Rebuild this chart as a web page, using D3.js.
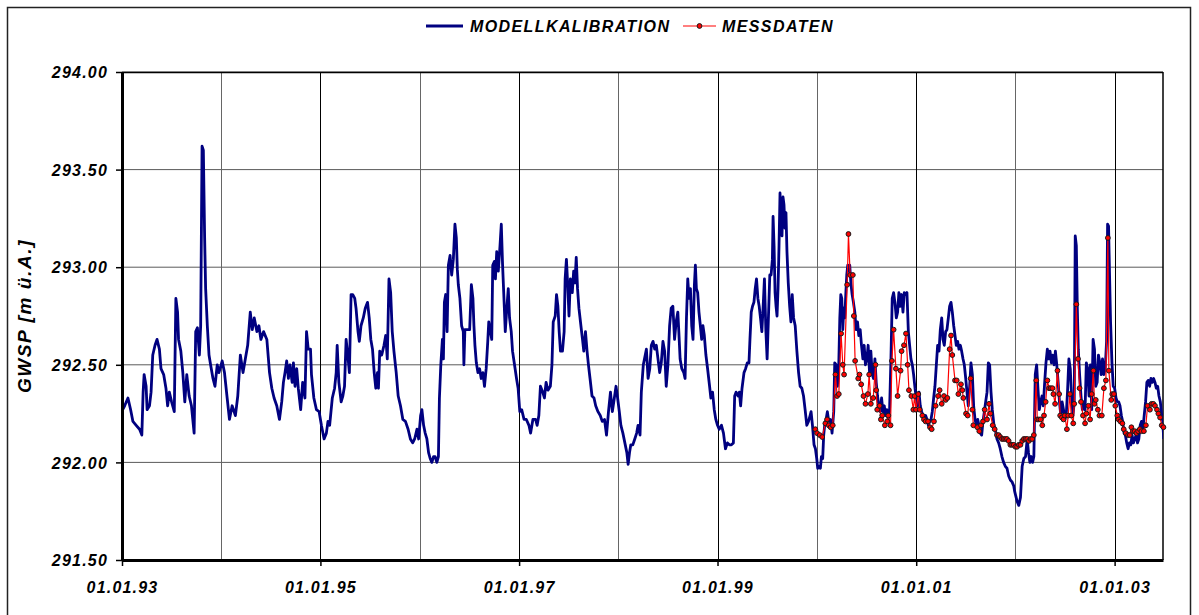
<!DOCTYPE html>
<html lang="de">
<head>
<meta charset="UTF-8">
<title>GWSP Modellkalibration</title>
<script src="https://d3js.org/d3.v7.min.js"></script>
<style>
    body { margin: 0; background: #fff; }
    svg { display: block; font-family: "Liberation Sans", Arial, sans-serif; }
    text { font-weight: bold; font-style: italic; fill: #000; }
</style>
</head>
<body>
<svg id="chart" width="1199" height="615"></svg>
<script>
// [decimal year, water level m ü.A.]
const modelSeries = [
[1993.000,292.44],[1993.007,292.27],[1993.027,292.29],[1993.060,292.33],[1993.087,292.27],[1993.110,292.21],[1993.143,292.19],[1993.177,292.17],[1993.200,292.14],[1993.213,292.36],[1993.223,292.45],[1993.243,292.39],[1993.253,292.27],[1993.277,292.29],[1993.293,292.36],[1993.310,292.55],[1993.333,292.60],[1993.353,292.63],[1993.377,292.58],[1993.393,292.48],[1993.420,292.45],[1993.443,292.38],[1993.460,292.29],[1993.477,292.36],[1993.500,292.31],[1993.527,292.26],[1993.543,292.84],[1993.560,292.77],[1993.570,292.63],[1993.593,292.57],[1993.613,292.46],[1993.633,292.31],[1993.653,292.45],[1993.677,292.34],[1993.700,292.29],[1993.727,292.15],[1993.743,292.67],[1993.760,292.69],[1993.780,292.55],[1993.793,292.70],[1993.807,293.62],[1993.820,293.60],[1993.833,293.15],[1993.843,292.89],[1993.860,292.70],[1993.877,292.55],[1993.893,292.50],[1993.917,292.43],[1993.937,292.39],[1993.960,292.50],[1993.977,292.46],[1994.010,292.52],[1994.033,292.46],[1994.060,292.33],[1994.083,292.22],[1994.110,292.29],[1994.143,292.24],[1994.167,292.34],[1994.193,292.55],[1994.220,292.46],[1994.243,292.53],[1994.267,292.60],[1994.293,292.77],[1994.313,292.68],[1994.333,292.74],[1994.360,292.67],[1994.380,292.70],[1994.400,292.63],[1994.427,292.67],[1994.460,292.63],[1994.487,292.46],[1994.510,292.38],[1994.533,292.33],[1994.560,292.29],[1994.587,292.22],[1994.610,292.31],[1994.627,292.41],[1994.643,292.46],[1994.660,292.52],[1994.677,292.43],[1994.693,292.50],[1994.715,292.41],
[1994.728,292.51],[1994.744,292.39],[1994.761,292.48],[1994.777,292.38],[1994.801,292.27],[1994.821,292.41],[1994.844,292.33],[1994.860,292.67],[1994.877,292.58],[1994.900,292.58],[1994.910,292.45],[1994.934,292.33],[1994.960,292.27],[1994.987,292.26],[1995.010,292.19],[1995.037,292.12],[1995.060,292.15],[1995.076,292.21],[1995.093,292.19],[1995.120,292.33],[1995.143,292.38],[1995.159,292.46],[1995.169,292.60],[1995.186,292.41],[1995.209,292.31],[1995.226,292.34],[1995.243,292.39],[1995.259,292.63],[1995.276,292.55],[1995.292,292.46],[1995.309,292.86],[1995.326,292.86],[1995.346,292.84],[1995.359,292.79],[1995.379,292.67],[1995.392,292.62],[1995.409,292.70],[1995.432,292.74],[1995.452,292.79],[1995.475,292.82],[1995.492,292.74],[1995.508,292.63],[1995.525,292.58],[1995.542,292.46],[1995.558,292.38],[1995.575,292.46],[1995.585,292.38],[1995.598,292.57],[1995.618,292.55],[1995.641,292.60],[1995.658,292.65],[1995.674,292.53],[1995.691,292.94],[1995.708,292.87],[1995.724,292.67],[1995.741,292.57],[1995.764,292.46],[1995.784,292.34],[1995.807,292.29],[1995.831,292.22],[1995.857,292.21],[1995.884,292.17],[1995.907,292.12],[1995.930,292.10],[1995.950,292.12],[1995.973,292.17],[1995.990,292.12],[1996.010,292.24],[1996.023,292.27],[1996.040,292.19],[1996.056,292.15],[1996.073,292.12],[1996.090,292.05],[1996.106,292.02],[1996.123,292.00],[1996.140,292.03],[1996.156,292.03],[1996.173,292.00],[1996.189,292.03],[1996.199,292.33],[1996.213,292.50],[1996.229,292.63],[1996.239,292.53],[1996.249,292.82],[1996.262,292.86],[1996.276,292.67],[1996.289,293.01],[1996.306,293.06],[1996.322,292.96],[1996.339,293.04],[1996.355,293.22],[1996.369,293.15],[1996.379,292.99],[1996.389,292.91],[1996.405,292.84],[1996.422,292.70],[1996.439,292.67],[1996.445,292.50],[1996.455,292.68],[1996.482,292.68],
[1996.503,292.68],[1996.520,292.91],[1996.536,292.84],[1996.546,292.70],[1996.556,292.60],[1996.570,292.51],[1996.586,292.46],[1996.603,292.48],[1996.619,292.43],[1996.636,292.46],[1996.652,292.39],[1996.669,292.48],[1996.685,292.62],[1996.695,292.72],[1996.709,292.68],[1996.725,292.63],[1996.735,293.01],[1996.752,293.03],[1996.762,292.94],[1996.775,293.08],[1996.791,292.98],[1996.808,293.11],[1996.821,293.22],[1996.834,293.01],[1996.851,292.80],[1996.861,292.67],[1996.874,292.77],[1996.891,292.89],[1996.904,292.74],[1996.921,292.67],[1996.934,292.57],[1996.954,292.50],[1996.974,292.43],[1996.990,292.38],[1997.007,292.26],[1997.026,292.27],[1997.050,292.22],[1997.073,292.22],[1997.099,292.19],[1997.116,292.15],[1997.139,292.22],[1997.166,292.22],[1997.182,292.19],[1997.199,292.24],[1997.215,292.39],[1997.238,292.36],[1997.255,292.33],[1997.272,292.41],[1997.291,292.37],[1997.315,292.39],[1997.331,292.50],[1997.344,292.72],[1997.364,292.75],[1997.377,292.86],[1997.391,292.80],[1997.404,292.67],[1997.417,292.57],[1997.437,292.57],[1997.454,292.67],[1997.464,292.94],[1997.477,293.04],[1997.490,292.91],[1997.503,292.75],[1997.517,292.94],[1997.536,292.87],[1997.550,292.98],[1997.563,292.92],[1997.576,293.05],[1997.589,292.89],[1997.603,292.79],[1997.623,292.70],[1997.639,292.63],[1997.652,292.57],[1997.669,292.67],[1997.685,292.57],[1997.699,292.50],[1997.715,292.43],[1997.735,292.34],[1997.755,292.33],[1997.772,292.29],[1997.795,292.26],[1997.818,292.24],[1997.838,292.21],[1997.861,292.22],[1997.881,292.14],[1997.901,292.26],[1997.921,292.36],[1997.940,292.26],[1997.960,292.33],[1997.977,292.39],[1997.993,292.33],[1998.010,292.26],[1998.026,292.19],[1998.046,292.15],[1998.066,292.10],[1998.086,292.05],[1998.099,291.99],[1998.113,292.05],[1998.126,292.09],[1998.146,292.09],[1998.166,292.12],[1998.185,292.15],[1998.199,292.19],[1998.219,292.14],[1998.232,292.36],[1998.252,292.50],
[1998.283,292.58],[1998.300,292.43],[1998.317,292.48],[1998.333,292.60],[1998.350,292.62],[1998.367,292.58],[1998.383,292.60],[1998.400,292.53],[1998.417,292.46],[1998.433,292.51],[1998.450,292.62],[1998.467,292.57],[1998.483,292.39],[1998.500,292.50],[1998.517,292.70],[1998.533,292.79],[1998.550,292.80],[1998.567,292.63],[1998.583,292.72],[1998.600,292.77],[1998.610,292.67],[1998.623,292.53],[1998.640,292.48],[1998.660,292.46],[1998.673,292.43],[1998.687,292.74],[1998.700,292.94],[1998.713,292.84],[1998.727,292.89],[1998.740,292.70],[1998.753,292.63],[1998.767,292.91],[1998.777,293.01],[1998.787,292.89],[1998.800,292.87],[1998.813,292.77],[1998.827,292.70],[1998.840,292.63],[1998.853,292.70],[1998.867,292.65],[1998.883,292.55],[1998.900,292.48],[1998.920,292.39],[1998.933,292.33],[1998.950,292.36],[1998.967,292.27],[1998.983,292.22],[1999.000,292.19],[1999.017,292.17],[1999.040,292.19],[1999.060,292.15],[1999.080,292.07],[1999.100,292.10],[1999.120,292.09],[1999.140,292.09],[1999.160,292.10],[1999.173,292.34],[1999.187,292.36],[1999.207,292.34],[1999.220,292.36],[1999.233,292.29],[1999.247,292.38],[1999.267,292.46],[1999.283,292.48],[1999.300,292.51],[1999.317,292.51],[1999.327,292.63],[1999.340,292.77],[1999.353,292.80],[1999.367,292.82],[1999.380,292.89],[1999.393,292.94],[1999.407,292.84],[1999.420,292.80],[1999.433,292.74],[1999.447,292.67],[1999.460,292.80],[1999.473,292.94],[1999.487,292.68],[1999.500,292.53],[1999.513,292.74],[1999.527,292.96],[1999.540,292.96],[1999.553,293.04],[1999.560,293.26],[1999.570,293.11],[1999.580,292.87],[1999.590,292.80],[1999.600,292.75],[1999.610,292.89],[1999.620,293.11],[1999.630,293.38],[1999.640,293.25],[1999.650,293.16],[1999.660,293.36],[1999.670,293.32],[1999.680,293.20],[1999.690,293.28],[1999.700,293.08],[1999.713,292.92],[1999.727,292.80],[1999.740,292.72],[1999.753,292.86],[1999.767,292.74],[1999.783,292.70],[1999.800,292.57],[1999.817,292.46],[1999.833,292.39],[1999.850,292.38],[1999.867,292.34],[1999.883,292.27],[1999.900,292.19],[1999.917,292.21],[1999.933,292.24],[1999.943,292.26],[1999.957,292.19],[1999.973,292.09],[1999.987,292.07],[2000.000,292.02],[2000.010,291.97],
[2000.020,291.98],[2000.037,291.97],[2000.047,292.03],[2000.060,292.02],[2000.070,292.14],[2000.080,292.19],[2000.094,292.22],[2000.107,292.26],[2000.121,292.21],[2000.138,292.22],[2000.154,292.15],[2000.171,292.26],[2000.181,292.51],[2000.195,292.50],[2000.208,292.39],[2000.222,292.51],[2000.232,292.74],[2000.242,292.86],[2000.252,292.84],[2000.262,292.68],[2000.272,292.79],[2000.282,292.74],[2000.292,292.86],[2000.302,292.96],[2000.312,293.01],[2000.322,292.98],[2000.332,293.01],[2000.343,292.92],[2000.356,292.86],[2000.369,292.82],[2000.383,292.77],[2000.396,292.68],[2000.410,292.72],[2000.423,292.65],[2000.437,292.68],[2000.450,292.60],[2000.464,292.53],[2000.477,292.60],[2000.490,292.50],[2000.504,292.53],[2000.517,292.60],[2000.531,292.46],[2000.544,292.57],[2000.558,292.45],[2000.571,292.43],[2000.585,292.53],[2000.598,292.41],[2000.611,292.34],[2000.625,292.29],[2000.638,292.26],[2000.652,292.33],[2000.665,292.26],[2000.679,292.29],[2000.692,292.24],[2000.705,292.27],[2000.719,292.22],[2000.732,292.26],[2000.746,292.53],[2000.759,292.84],[2000.773,292.87],[2000.786,292.82],[2000.800,292.74],[2000.813,292.77],[2000.826,292.87],[2000.840,292.80],[2000.853,292.86],[2000.867,292.77],[2000.880,292.87],[2000.894,292.86],[2000.907,292.87],[2000.921,292.67],[2000.934,292.60],[2000.947,292.53],[2000.961,292.50],[2000.974,292.45],[2000.988,292.38],[2001.001,292.33],[2001.015,292.29],[2001.028,292.36],[2001.041,292.29],[2001.055,292.26],[2001.068,292.24],[2001.082,292.22],[2001.095,292.24],[2001.109,292.22],[2001.122,292.19],[2001.136,292.21],[2001.149,292.22],[2001.162,292.26],[2001.176,292.33],[2001.189,292.39],[2001.203,292.50],[2001.216,292.60],[2001.230,292.57],[2001.243,292.68],[2001.257,292.74],[2001.270,292.63],[2001.283,292.60],[2001.297,292.67],[2001.310,292.68],[2001.324,292.74],[2001.337,292.80],[2001.351,292.82],[2001.364,292.77],[2001.378,292.70],[2001.391,292.65],[2001.404,292.60],[2001.418,292.62],[2001.431,292.58],[2001.445,292.60],[2001.458,292.57],[2001.472,292.53],[2001.485,292.50],[2001.499,292.43],[2001.512,292.36],[2001.525,292.29],[2001.539,292.39],[2001.552,292.51],[2001.566,292.45],[2001.579,292.29],[2001.593,292.22],[2001.606,292.19],[2001.620,292.22],[2001.633,292.19],[2001.646,292.15],[2001.660,292.14],[2001.673,292.21],[2001.687,292.26],[2001.700,292.31],[2001.714,292.36],[2001.727,292.51],[2001.740,292.50],[2001.754,292.36],[2001.767,292.27],[2001.784,292.19],
[2001.797,292.17],[2001.814,292.12],[2001.831,292.10],[2001.847,292.07],[2001.864,292.03],[2001.881,292.00],[2001.898,291.98],[2001.915,291.97],[2001.932,291.93],[2001.949,291.91],[2001.966,291.90],[2001.983,291.88],[2001.993,291.85],[2002.017,291.80],[2002.034,291.78],[2002.051,291.82],[2002.068,291.98],[2002.085,292.02],[2002.102,292.03],[2002.119,292.12],[2002.132,292.05],[2002.146,292.00],[2002.159,292.03],[2002.173,292.00],[2002.186,292.03],[2002.200,292.45],[2002.214,292.50],[2002.227,292.38],[2002.241,292.27],[2002.254,292.31],[2002.268,292.34],[2002.281,292.29],[2002.295,292.41],[2002.308,292.51],[2002.322,292.58],[2002.336,292.53],[2002.349,292.57],[2002.363,292.51],[2002.376,292.55],[2002.390,292.50],[2002.403,292.57],[2002.417,292.50],[2002.431,292.41],[2002.444,292.31],[2002.458,292.24],[2002.471,292.31],[2002.485,292.27],[2002.498,292.22],[2002.512,292.24],[2002.525,292.36],[2002.539,292.53],[2002.553,292.48],[2002.566,292.34],[2002.580,292.24],[2002.593,292.31],[2002.603,293.16],[2002.614,293.11],[2002.624,292.79],[2002.634,292.58],[2002.647,292.45],[2002.661,292.34],[2002.675,292.27],[2002.688,292.31],[2002.702,292.27],[2002.715,292.51],[2002.729,292.48],[2002.742,292.34],[2002.756,292.50],[2002.769,292.27],[2002.783,292.63],[2002.797,292.58],[2002.810,292.39],[2002.824,292.41],[2002.837,292.55],[2002.851,292.51],[2002.864,292.45],[2002.878,292.53],[2002.892,292.45],[2002.905,292.48],[2002.919,292.62],[2002.929,293.22],[2002.939,293.21],[2002.949,292.96],[2002.959,292.72],[2002.973,292.51],[2002.986,292.39],[2003.000,292.38],[2003.014,292.33],[2003.027,292.31],[2003.041,292.31],[2003.054,292.29],[2003.068,292.24],[2003.081,292.21],[2003.095,292.15],[2003.108,292.14],[2003.122,292.10],[2003.136,292.07],[2003.149,292.10],[2003.163,292.09],[2003.176,292.14],[2003.190,292.10],[2003.203,292.12],[2003.217,292.14],[2003.231,292.10],[2003.244,292.12],[2003.258,292.19],[2003.271,292.21],[2003.285,292.17],[2003.298,292.24],[2003.312,292.31],[2003.325,292.41],[2003.339,292.42],[2003.353,292.39],[2003.366,292.43],[2003.380,292.41],[2003.393,292.43],[2003.407,292.41],[2003.420,292.38],[2003.434,292.39],[2003.447,292.34],[2003.461,292.31],[2003.475,292.24],[2003.485,292.21],[2003.495,292.12]
];

const measSeries = [
[1999.986,292.17],[2000.003,292.15],[2000.030,292.14],[2000.055,292.13],[2000.087,292.20],[2000.104,292.22],[2000.121,292.19],[2000.140,292.18],[2000.161,292.19],[2000.188,292.45],[2000.205,292.34],[2000.222,292.35],[2000.245,292.66],[2000.262,292.50],[2000.275,292.45],[2000.306,292.91],[2000.319,293.17],[2000.336,292.96],[2000.363,292.96],[2000.373,292.75],[2000.386,292.52],[2000.417,292.43],[2000.430,292.45],[2000.447,292.40],[2000.470,292.34],[2000.490,292.30],[2000.514,292.35],[2000.527,292.45],[2000.544,292.30],[2000.568,292.33],[2000.591,292.50],[2000.598,292.37],[2000.608,292.27],[2000.632,292.29],[2000.645,292.22],[2000.658,292.24],[2000.685,292.19],[2000.709,292.21],[2000.719,292.24],[2000.742,292.19],[2000.756,292.52],[2000.773,292.68],[2000.796,292.48],[2000.813,292.34],[2000.843,292.47],[2000.853,292.57],[2000.877,292.60],[2000.897,292.66],[2000.914,292.50],[2000.927,292.37],[2000.951,292.34],[2000.971,292.27],[2000.984,292.34],[2000.998,292.27],
[2001.021,292.35],[2001.035,292.27],[2001.062,292.24],[2001.078,292.22],[2001.095,292.21],[2001.119,292.21],[2001.139,292.18],[2001.156,292.17],[2001.179,292.21],[2001.196,292.29],[2001.220,292.34],[2001.236,292.37],[2001.257,292.30],[2001.280,292.34],[2001.297,292.32],[2001.314,292.33],[2001.337,292.58],[2001.351,292.65],[2001.364,292.55],[2001.391,292.42],[2001.408,292.42],[2001.425,292.35],[2001.451,292.40],[2001.465,292.37],[2001.475,292.33],[2001.502,292.25],[2001.519,292.24],[2001.549,292.43],[2001.566,292.27],[2001.576,292.19],[2001.616,292.18],[2001.636,292.16],[2001.653,292.19],[2001.673,292.21],[2001.690,292.27],[2001.714,292.22],[2001.734,292.30],[2001.747,292.25],[2001.771,292.19],[2001.791,292.17],
[2001.814,292.14],[2001.831,292.14],[2001.847,292.13],[2001.864,292.12],[2001.881,292.12],[2001.898,292.12],[2001.915,292.12],[2001.932,292.11],[2001.949,292.09],[2001.966,292.09],[2001.983,292.09],[2002.000,292.08],[2002.017,292.08],[2002.034,292.09],[2002.051,292.09],[2002.068,292.11],[2002.085,292.12],[2002.102,292.12],[2002.119,292.12],[2002.136,292.11],[2002.153,292.12],[2002.169,292.12],[2002.186,292.14],[2002.210,292.42],[2002.220,292.22],[2002.237,292.22],[2002.254,292.22],[2002.271,292.19],[2002.288,292.24],[2002.305,292.31],[2002.322,292.42],[2002.339,292.38],[2002.356,292.38],[2002.373,292.38],[2002.383,292.35],[2002.400,292.30],[2002.424,292.47],[2002.441,292.35],[2002.451,292.24],[2002.468,292.23],[2002.485,292.22],[2002.498,292.24],[2002.519,292.17],[2002.532,292.24],[2002.549,292.35],[2002.563,292.24],[2002.583,292.20],[2002.593,292.30],[2002.614,292.81],[2002.631,292.53],[2002.647,292.38],[2002.661,292.31],[2002.681,292.24],[2002.702,292.20],[2002.715,292.25],[2002.736,292.29],[2002.753,292.22],[2002.769,292.35],[2002.786,292.47],[2002.797,292.30],[2002.810,292.32],[2002.831,292.27],[2002.847,292.24],[2002.871,292.24],[2002.892,292.38],[2002.912,292.42],[2002.932,293.15],[2002.942,292.47],[2002.966,292.32],[2002.976,292.35],[2002.993,292.35],
[2003.007,292.29],[2003.027,292.24],[2003.041,292.22],[2003.058,292.21],[2003.078,292.20],[2003.092,292.17],[2003.112,292.15],[2003.136,292.14],[2003.153,292.14],[2003.169,292.18],[2003.186,292.16],[2003.203,292.16],[2003.220,292.15],[2003.237,292.16],[2003.254,292.17],[2003.271,292.16],[2003.295,292.16],[2003.315,292.19],[2003.332,292.29],[2003.356,292.27],[2003.373,292.30],[2003.390,292.30],[2003.407,292.29],[2003.427,292.27],[2003.441,292.25],[2003.458,292.23],[2003.475,292.19],[2003.492,292.18]
];

const yTicks = [291.5, 292.0, 292.5, 293.0, 293.5, 294.0];
const xTickYears = [1993, 1995, 1997, 1999, 2001, 2003];
const xDomain = [new Date(Date.UTC(1993, 0, 1)), new Date(Date.UTC(2003, 5, 28))];
const legendItems = ["MODELLKALIBRATION", "MESSDATEN"];

// decimal year -> Date
function toDate(y) {
    const yr = Math.floor(y);
    const a = Date.UTC(yr, 0, 1), b = Date.UTC(yr + 1, 0, 1);
    return new Date(a + (y - yr) * (b - a));
}

const margin = {top: 72, right: 36, bottom: 55, left: 122};
const W = 1199, H = 615;
const width = W - margin.left - margin.right;
const height = H - margin.top - margin.bottom;

const svg = d3.select("#chart");

// outer chart frame
svg.append("rect")
    .attr("x", 7.5).attr("y", 7.5)
    .attr("width", 1183).attr("height", 620)
    .attr("fill", "none").attr("stroke", "#222").attr("stroke-width", 1.5);

const g = svg.append("g").attr("transform", `translate(${margin.left},${margin.top})`);

const x = d3.scaleUtc().domain(xDomain).range([0, width]);
const y = d3.scaleLinear().domain([291.5, 294]).range([height, 0]);

// gridlines
g.append("g").selectAll("line")
    .data(yTicks)
    .join("line")
    .attr("x1", 0).attr("x2", width)
    .attr("y1", d => y(d)).attr("y2", d => y(d))
    .attr("stroke", "#5a5a5a").attr("stroke-width", 1);

g.append("g").selectAll("line")
    .data(x.ticks(d3.utcYear.every(1)))
    .join("line")
    .attr("x1", d => Math.round(x(d)) + 0.5).attr("x2", d => Math.round(x(d)) + 0.5)
    .attr("y1", 0).attr("y2", height)
    .attr("stroke", d => d.getUTCFullYear() % 2 === 1 ? "#000" : "#666")
    .attr("stroke-width", 1);

// plot border top/right
g.append("line").attr("x1", 0).attr("x2", width).attr("y1", 0.5).attr("y2", 0.5)
    .attr("stroke", "#000").attr("stroke-width", 1.5);
g.append("line").attr("x1", width).attr("x2", width).attr("y1", 0).attr("y2", height)
    .attr("stroke", "#000").attr("stroke-width", 1.5);

g.append("clipPath").attr("id", "clip")
    .append("rect").attr("width", width).attr("height", height);

const line = d3.line()
    .x(d => x(toDate(d[0])))
    .y(d => y(d[1]));

g.append("path")
    .datum(modelSeries)
    .attr("clip-path", "url(#clip)")
    .attr("fill", "none")
    .attr("stroke", "#000080")
    .attr("stroke-width", 2.8)
    .attr("stroke-linejoin", "round")
    .attr("d", line);

g.append("path")
    .datum(measSeries)
    .attr("clip-path", "url(#clip)")
    .attr("fill", "none")
    .attr("stroke", "#ff0000")
    .attr("stroke-width", 1.2)
    .attr("d", line);

g.append("g").selectAll("circle")
    .data(measSeries)
    .join("circle")
    .attr("cx", d => x(toDate(d[0])))
    .attr("cy", d => y(d[1]))
    .attr("r", 2.4)
    .attr("fill", "#ff0000")
    .attr("stroke", "#1a1a1a")
    .attr("stroke-width", 1);

// axes
const yAxis = g.append("g")
    .call(d3.axisLeft(y).tickValues(yTicks).tickFormat(d3.format(".2f")).tickSize(6).tickSizeOuter(0).tickPadding(8));
const xAxis = g.append("g")
    .attr("transform", `translate(0,${height})`)
    .call(d3.axisBottom(x)
        .tickValues(xTickYears.map(yr => new Date(Date.UTC(yr, 0, 1))))
        .tickFormat(d3.utcFormat("%d.%m.%y"))
        .tickSize(6).tickSizeOuter(0).tickPadding(16));

[yAxis, xAxis].forEach(a => {
    a.select(".domain").attr("stroke", "#000").attr("stroke-width", 3);
    a.selectAll(".tick line").attr("stroke", "#000").attr("stroke-width", 1.5);
    a.selectAll(".tick text")
        .attr("font-family", "'Liberation Sans', Arial, sans-serif")
        .attr("font-size", 16)
        .attr("font-weight", "bold")
        .attr("font-style", "italic")
        .attr("letter-spacing", 1.2)
        .attr("fill", "#000");
});
yAxis.selectAll(".tick text").attr("dy", "0.36em");

// y axis title
svg.append("text")
    .attr("transform", "translate(31,316) rotate(-90)")
    .attr("text-anchor", "middle")
    .attr("font-size", 19)
    .attr("letter-spacing", 1.6)
    .text("GWSP [m ü.A.]");

// legend
const legend = svg.append("g");
legend.append("line")
    .attr("x1", 426).attr("x2", 463).attr("y1", 26).attr("y2", 26)
    .attr("stroke", "#000080").attr("stroke-width", 3);
legend.append("text")
    .attr("x", 470).attr("y", 32)
    .attr("font-size", 16).attr("letter-spacing", 1.4)
    .text(legendItems[0]);
legend.append("line")
    .attr("x1", 683).attr("x2", 716).attr("y1", 26).attr("y2", 26)
    .attr("stroke", "#ff0000").attr("stroke-width", 1.2);
legend.append("circle")
    .attr("cx", 699.5).attr("cy", 26).attr("r", 2.4)
    .attr("fill", "#ff0000").attr("stroke", "#1a1a1a").attr("stroke-width", 1);
legend.append("text")
    .attr("x", 722).attr("y", 32)
    .attr("font-size", 16).attr("letter-spacing", 1.4)
    .text(legendItems[1]);
</script>
</body>
</html>
